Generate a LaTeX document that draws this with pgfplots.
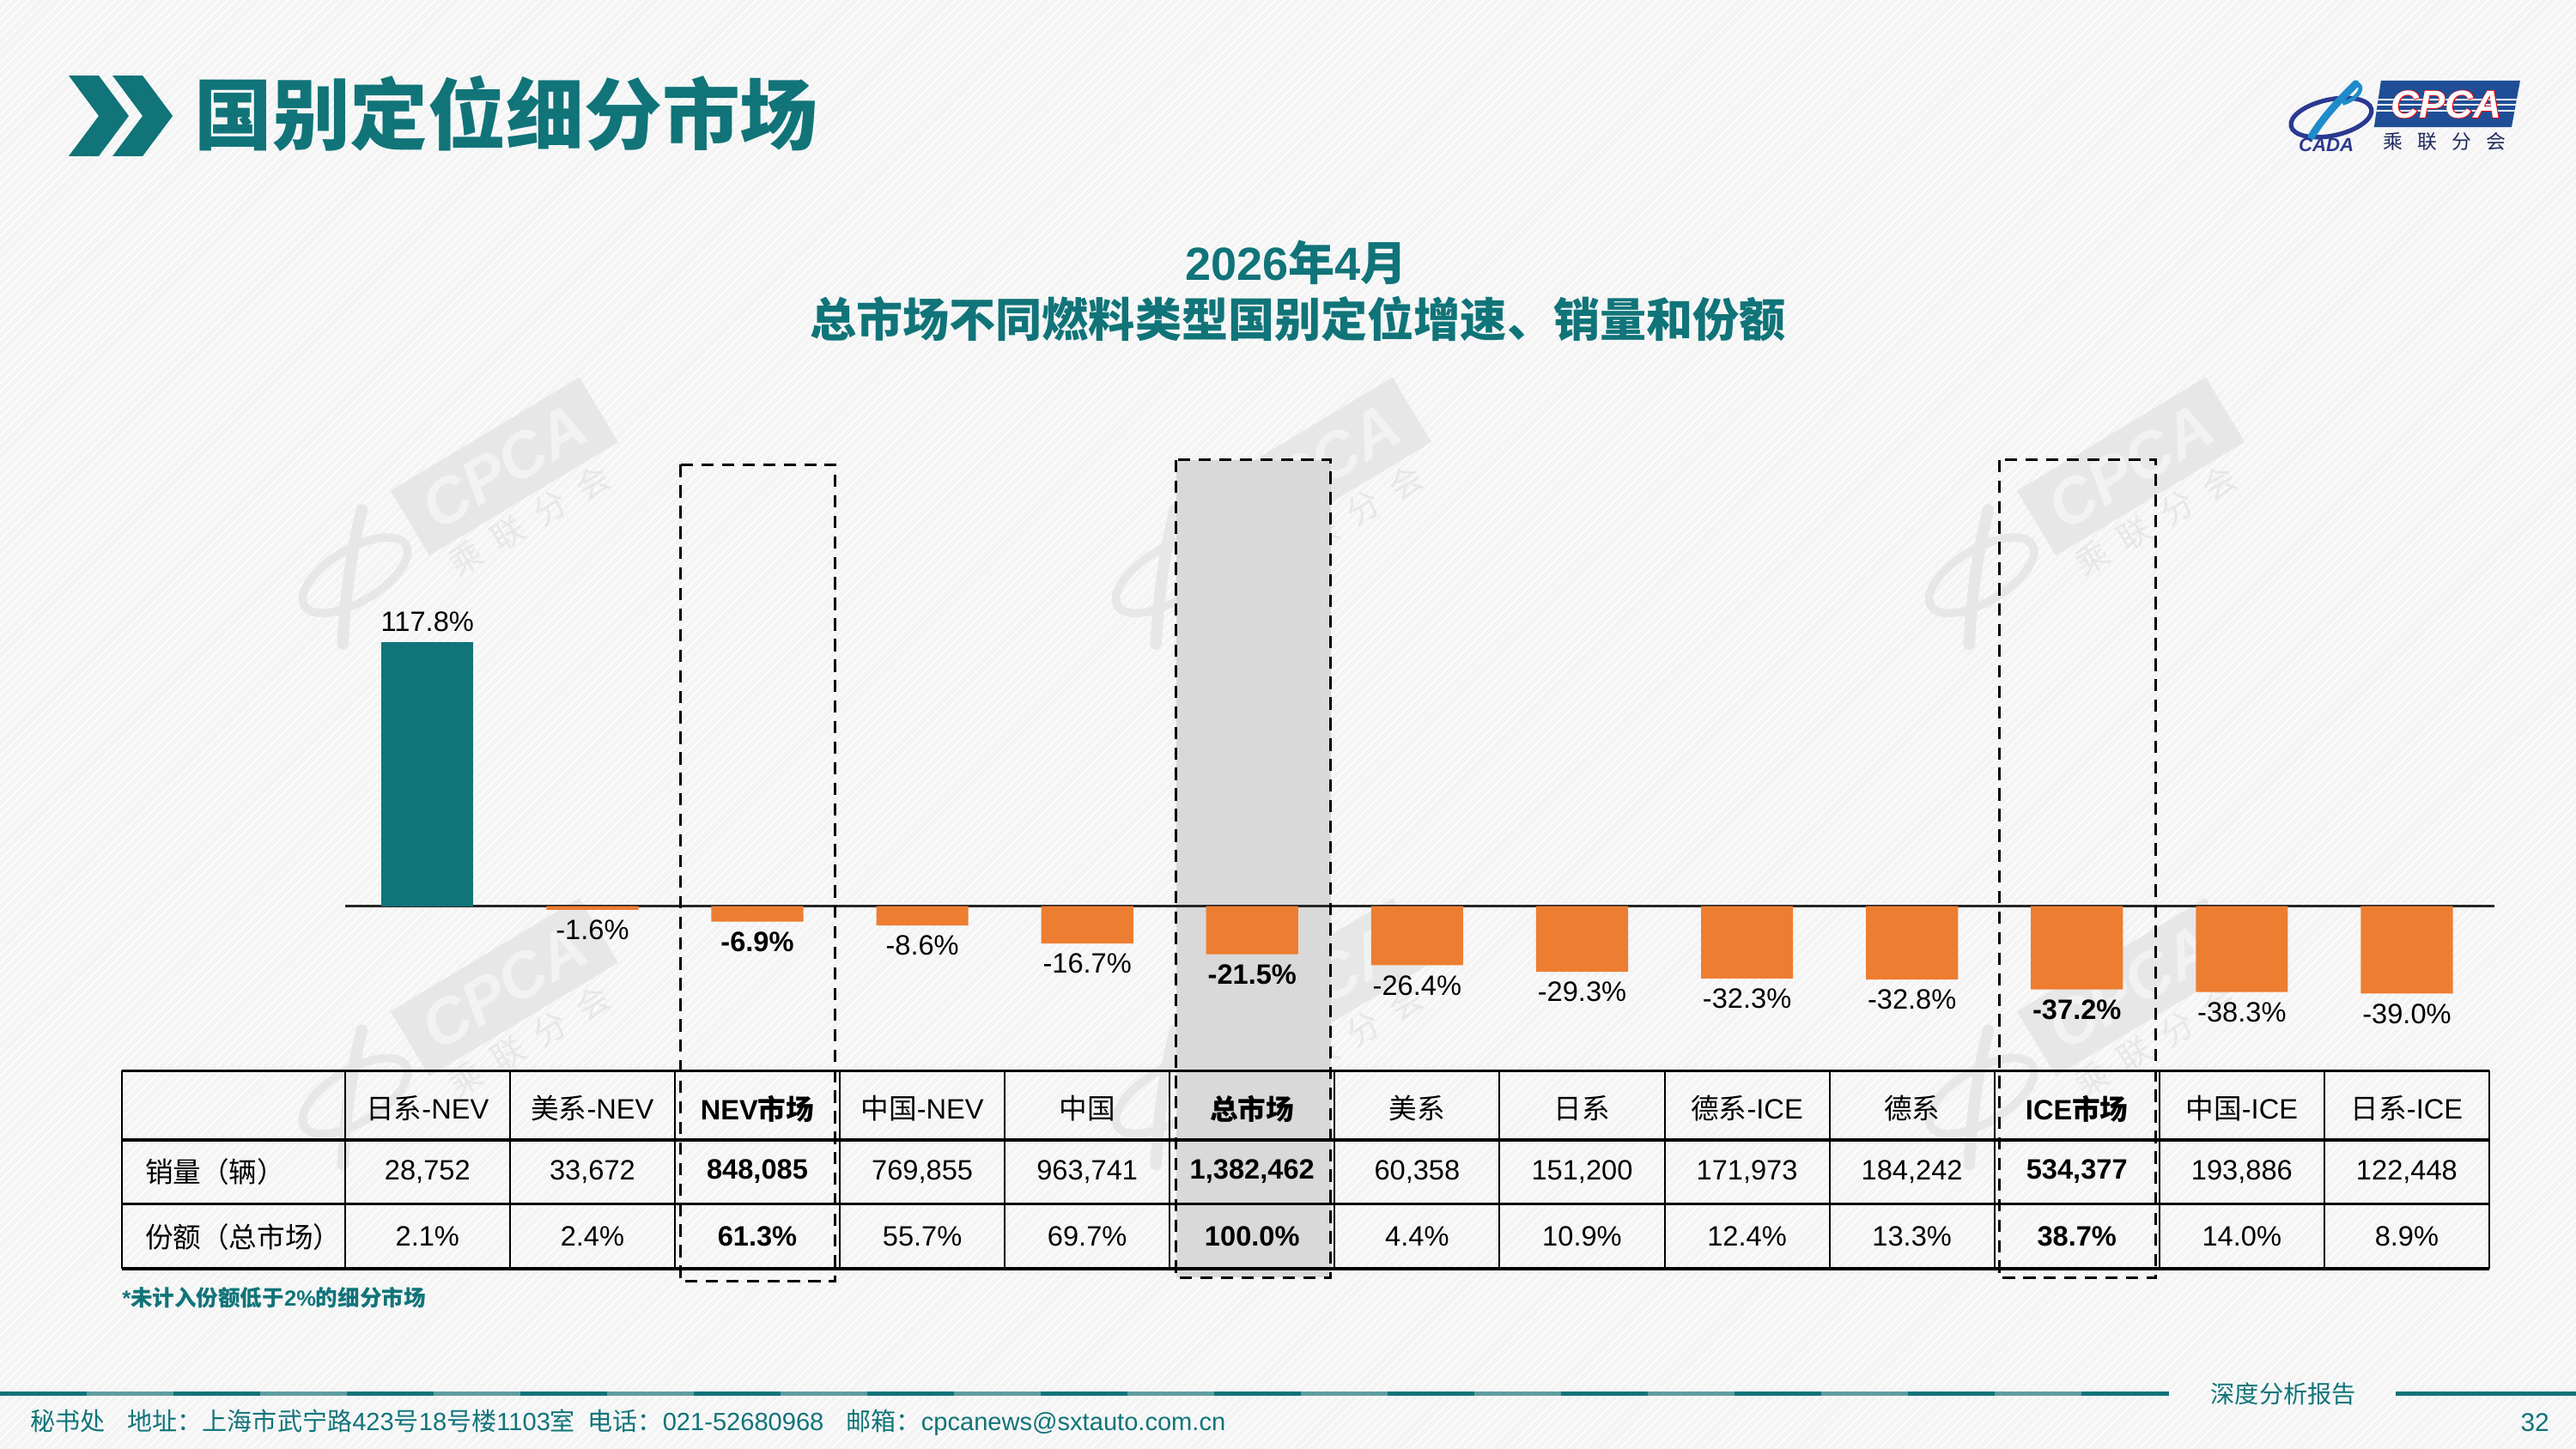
\documentclass[border=0pt]{standalone}
\usepackage{pgfplots}
\pgfplotsset{compat=1.18}
\usepackage{fontspec}
\setmainfont{Liberation Sans}
\newfontfamily\cjk{Noto Sans CJK SC}
\newfontfamily\cpcaout{Liberation Sans}[FakeBold=3]
\newcommand\zh[1]{{\cjk #1}}
\usetikzlibrary{patterns}

\definecolor{teal1}{HTML}{107479}
\definecolor{teallt}{HTML}{5E9EA1}
\definecolor{orng}{HTML}{ED7D31}
\definecolor{bg}{HTML}{F4F4F4}
\definecolor{wm}{HTML}{E7E7E7}
\definecolor{wmtext}{HTML}{F2F2F2}
\definecolor{hl}{HTML}{D9D9D9}
\definecolor{navy}{HTML}{1F4E96}
\definecolor{cadablue}{HTML}{2B3990}
\definecolor{skyb}{HTML}{1E8BCB}
\definecolor{logotxt}{HTML}{1F2A5C}

\newcommand\tabfont{\fontsize{9.7}{11.6}\selectfont}

% faint CPCA watermark, centred on the grey plate
\newcommand\wmark[2]{%
  \begin{scope}[shift={(#1,#2)},rotate=31]
    \fill[wm] (-67,-23) rectangle (67,23);
    \node[transform shape,text=wmtext,font={\fontsize{22}{24}\selectfont\bfseries\itshape}] at (0,0) {CPCA};
    \node[transform shape,text=wm,font={\cjk\fontsize{11.4}{12}\selectfont}] at (-4,36) {乘\hspace{0.5em}联\hspace{0.5em}分\hspace{0.5em}会};
    \draw[wm,line width=1mm] (-112,10) ellipse [x radius=36, y radius=16];
    \draw[wm,line width=1.4mm,line cap=round] (-88,-22) .. controls (-110,0) and (-125,20) .. (-140,42);
  \end{scope}}

\begin{document}
\begin{tikzpicture}
\useasboundingbox (0,0) rectangle (313.6mm,-176.4mm);

\begin{scope}[x=0.2mm,y=-0.2mm]
  % slide background
  \fill[bg] (0,0) rectangle (1568,882);
  \fill[pattern=north east lines, pattern color=white] (0,0) rectangle (1568,882);
  \foreach \cx/\cy in {307/284, 802/284, 1297/284, 307/601, 802/601, 1297/601} {\wmark{\cx}{\cy}}

  % page heading
  \foreach \dx in {0,26.7} {
    \fill[teal1] (41.8+\dx,46) -- (60.1+\dx,46) -- (78.4+\dx,70.6) -- (60.1+\dx,95.1)
      -- (41.8+\dx,95.1) -- (60.1+\dx,70.6) -- cycle;
  }
  \node[anchor=west,inner sep=0pt,text=teal1,font={\cjk\fontsize{27}{30}\selectfont\bfseries}] at (118,69) {国别定位细分市场};

  % CPCA / CADA logo
  \fill[navy] (1449.3,49.1) -- (1534,49.1) -- (1528.8,77.4) -- (1445.1,77.4) -- cycle;
  \begin{scope}
    \clip (1449.3,49.1) -- (1534,49.1) -- (1528.8,77.4) -- (1445.1,77.4) -- cycle;
    \foreach \yy in {60.5,64,67.5} \draw[white,line width=0.22mm] (1440,\yy) -- (1540,\yy);
  \end{scope}
  \node[text=red,font={\cpcaout\fontsize{13.5}{14}\selectfont\bfseries\itshape}] at (1489,63.5) {CPCA};
  \node[text=white,font={\fontsize{13.5}{14}\selectfont\bfseries\itshape}] at (1489,63.5) {CPCA};
  \node[text=logotxt,font={\cjk\fontsize{6.8}{7}\selectfont}] at (1488,86) {乘\hspace{0.75em}联\hspace{0.75em}分\hspace{0.75em}会};
  \draw[cadablue,line width=0.55mm,rotate around={12:(1419,71.6)}] (1419,71.6) ellipse [x radius=25, y radius=11];
  \draw[skyb,line width=0.9mm,line cap=round] (1434,51) .. controls (1425,60) and (1415,70) .. (1407,83);
  \draw[skyb,line width=0.5mm] (1434,51) .. controls (1440,52) and (1436,60) .. (1426,63);
  \node[text=cadablue,font={\fontsize{6.6}{7}\selectfont\bfseries\itshape}] at (1416,88.5) {CADA};

  % chart heading
  \node[text=teal1,font={\fontsize{16.1}{18}\selectfont\bfseries}] at (789,160) {2026\zh{年}4\zh{月}};
  \node[text=teal1,font={\cjk\fontsize{16.1}{18}\selectfont\bfseries}] at (790,194) {总市场不同燃料类型国别定位增速、销量和份额};

  % highlighted total-market column
  \fill[hl] (716,280) rectangle (810,777.8);

  % data table
  \foreach \yy in {652,694,733,772.5} \draw[black,line width=1.1pt] (74,\yy) -- (1515.2,\yy);
  \draw[black,line width=0.6pt] (74,652) -- (74,772.5);
  \foreach \k in {0,...,13} \draw[black,line width=0.6pt] (210+\k*100.4,652) -- (210+\k*100.4,772.5);
  \node[anchor=west,font=\tabfont,inner sep=0pt] at (88,713.5) {\zh{销量（辆）}};
  \node[anchor=west,font=\tabfont,inner sep=0pt] at (88,753) {\zh{份额（总市场）}};
  \foreach \h/\s/\p [count=\k from 0] in {
    {\zh{日系}-NEV}/{28,752}/{2.1\%},
    {\zh{美系}-NEV}/{33,672}/{2.4\%},
    {\bfseries NEV\zh{市场}}/{\bfseries 848,085}/{\bfseries 61.3\%},
    {\zh{中国}-NEV}/{769,855}/{55.7\%},
    {\zh{中国}}/{963,741}/{69.7\%},
    {\bfseries\zh{总市场}}/{\bfseries 1,382,462}/{\bfseries 100.0\%},
    {\zh{美系}}/{60,358}/{4.4\%},
    {\zh{日系}}/{151,200}/{10.9\%},
    {\zh{德系}-ICE}/{171,973}/{12.4\%},
    {\zh{德系}}/{184,242}/{13.3\%},
    {\bfseries ICE\zh{市场}}/{\bfseries 534,377}/{\bfseries 38.7\%},
    {\zh{中国}-ICE}/{193,886}/{14.0\%},
    {\zh{日系}-ICE}/{122,448}/{8.9\%}} {
    \node[font=\tabfont] at (260.2+\k*100.4,675) {\h};
    \node[font=\tabfont] at (260.2+\k*100.4,713.5) {\s};
    \node[font=\tabfont] at (260.2+\k*100.4,753) {\p};
  }
  \node[anchor=west,inner sep=0pt,text=teal1,font={\fontsize{7.6}{9}\selectfont\bfseries}] at (74,790) {*\zh{未计入份额低于}2\%\zh{的细分市场}};

  % footer
  \draw[teal1,line width=0.45mm] (0,848.5) -- (1320,848.5);
  \foreach \i in {1,3,...,23} \draw[teallt,line width=0.45mm] (\i*52.8,848.5) -- (\i*52.8+52.8,848.5);
  \draw[teal1,line width=0.45mm] (1458,848.5) -- (1568,848.5);
  \node[text=teal1,font={\cjk\fontsize{8.4}{9}\selectfont}] at (1390,848.5) {深度分析报告};
  \node[anchor=west,inner sep=0pt,text=teal1,font={\fontsize{8.65}{10}\selectfont}] at (18,866)
    {\zh{秘书处}\hspace{0.9em}\zh{地址：上海市武宁路}423\zh{号}18\zh{号楼}1103\zh{室}\hspace{0.5em}\zh{电话：}021-52680968\hspace{0.9em}\zh{邮箱：}cpcanews@sxtauto.com.cn};
  \node[text=teal1,font={\fontsize{8.9}{10}\selectfont}] at (1543,866) {32};
\end{scope}

% growth rates by segment
\begin{axis}[
  at={(42mm,-122.62mm)}, anchor=south west,
  x=20.08mm, y=0.2728mm,
  xmin=-0.5, xmax=12.53, ymin=-45, ymax=125,
  axis x line=middle, axis y line=none,
  x axis line style={-, line width=0.7pt, draw=black!85},
  xtick=\empty, ytick=\empty,
  clip=false,
  every axis plot/.append style={ybar, bar width=11.2mm, bar shift=0pt, draw=none},
  nodes near coords={\pgfmathprintnumber[fixed,fixed zerofill,precision=1,assume math mode=true]{\pgfplotspointmeta}\%},
  every node near coord/.append style={font=\tabfont, text=black},
]
\addplot[fill=teal1] coordinates {(0,117.8)};
\addplot[fill=orng] coordinates {(1,-1.6) (3,-8.6) (4,-16.7) (6,-26.4) (7,-29.3) (8,-32.3) (9,-32.8) (11,-38.3) (12,-39.0)};
\addplot[fill=orng, every node near coord/.append style={font=\tabfont\bfseries}] coordinates {(2,-6.9) (5,-21.5) (10,-37.2)};
\end{axis}

% dashed frames around the market totals
\begin{scope}[x=0.2mm,y=-0.2mm]
  \draw[black,line width=0.9pt,dash pattern=on 1.5mm off 1mm] (414,283) rectangle (508.5,780);
  \draw[black,line width=0.9pt,dash pattern=on 1.5mm off 1mm] (716,280) rectangle (810,777.8);
  \draw[black,line width=0.9pt,dash pattern=on 1.5mm off 1mm] (1217,280) rectangle (1312,778);
\end{scope}
\end{tikzpicture}
\end{document}
